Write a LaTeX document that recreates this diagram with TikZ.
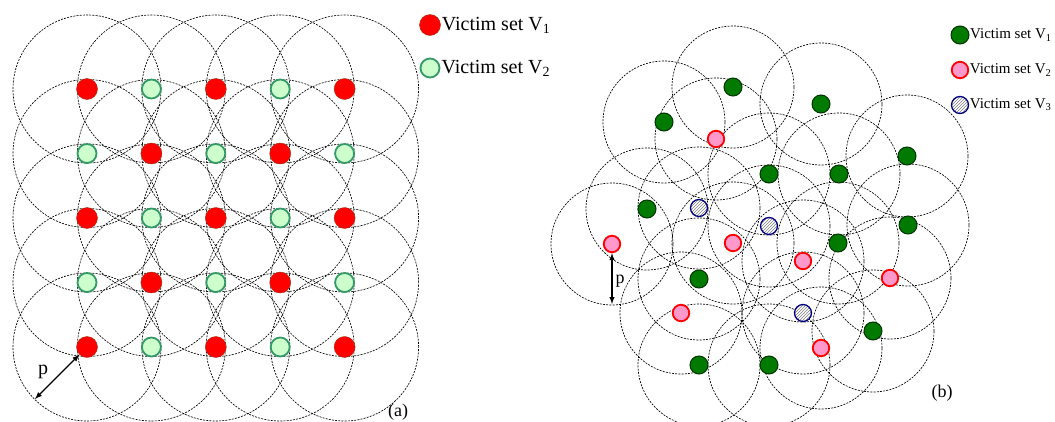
\documentclass[tikz,border=0pt]{standalone}
\usepackage{fontspec}
\setmainfont{Liberation Serif}
\usetikzlibrary{arrows,backgrounds,patterns,positioning,calc}

\definecolor{brickred}{HTML}{A03010}
\definecolor{palegreen}{HTML}{CCFFCC}
\definecolor{seagreen}{HTML}{339966}
\definecolor{leafgreen}{HTML}{007A00}
\definecolor{leafedge}{HTML}{003300}
\definecolor{rosefill}{HTML}{FF99CC}
\definecolor{navyedge}{HTML}{000080}

\begin{document}
\begin{tikzpicture}
[x=1pt,y=-1pt,
vone/.style={circle,inner sep=0pt,fill=red,draw=brickred,line width=0.4pt,minimum size=21pt},
vtwo/.style={circle,inner sep=0pt,fill=palegreen,draw=seagreen,line width=1.8pt,minimum size=19pt},
bone/.style={circle,inner sep=0pt,fill=leafgreen,draw=leafedge,line width=1pt,minimum size=18pt},
btwo/.style={circle,inner sep=0pt,fill=rosefill,draw=red,line width=1.8pt,minimum size=16.5pt},
bthree/.style={circle,inner sep=0pt,preaction={fill=white},pattern=north east lines,pattern color=gray,draw=navyedge,line width=1.3pt,minimum size=17pt},
cover/.style={draw=black,dash pattern=on 2pt off 1.2pt,line width=0.65pt},
pline/.style={<->,>=latex,line width=1.4pt},
legtext/.style={inner sep=0pt,font=\fontsize{20}{24}\selectfont},
legsmall/.style={inner sep=0pt,font=\fontsize{15}{18}\selectfont},
captext/.style={inner sep=0pt,font=\fontsize{18}{21}\selectfont}]
\useasboundingbox (0,0) rectangle (1055,421);

% (a) grid of victims
\foreach \i in {0,...,4}
  \foreach \j in {0,...,4} {
    \pgfmathtruncatemacro\k{mod(\i+\j,2)}
    \ifnum\k=0 \def\kind{vone}\else\def\kind{vtwo}\fi
    \node[\kind] (a\i\j) at (87+64.4*\i,89+64.5*\j) {};
  }
\begin{scope}[on background layer]
\foreach \i in {0,...,4}
  \foreach \j in {0,...,4}
    \draw[cover] (a\i\j) circle[radius=74pt];
\end{scope}

\coordinate (pa) at (35,399);
\draw[pline] (a04.south west) -- (pa);
\node[captext,font=\fontsize{20}{24}\selectfont] (pla) at (43,372) {p};
\node[captext] (capa) at (398,412) {(a)};

\node[vone] (ka1) at (430,25) {};
\node[legtext,right=1pt of ka1] (ta1) {Victim set V\textsubscript{1}};
\node[vtwo] (ka2) at (430,68) {};
\node[legtext,right=1pt of ka2] (ta2) {Victim set V\textsubscript{2}};

% (b) random victims
\node[bone] (g1) at (733,87) {};
\node[bone] (g2) at (664,122) {};
\node[bone] (g3) at (821,104) {};
\node[bone] (g4) at (907,156) {};
\node[bone] (g5) at (769,174) {};
\node[bone] (g6) at (839,174) {};
\node[bone] (g7) at (647,209) {};
\node[bone] (g8) at (838,243) {};
\node[bone] (g9) at (908,225) {};
\node[bone] (g10) at (699,279) {};
\node[bone] (g11) at (873,331) {};
\node[bone] (g12) at (699,365) {};
\node[bone] (g13) at (769,365) {};
\node[btwo] (r1) at (716,139) {};
\node[btwo] (r2) at (612,244) {};
\node[btwo] (r3) at (733,243) {};
\node[btwo] (r4) at (803,261) {};
\node[btwo] (r5) at (890,278) {};
\node[btwo] (r6) at (681,313) {};
\node[btwo] (r7) at (821,348) {};
\node[bthree] (h1) at (699,208) {};
\node[bthree] (h2) at (769,226) {};
\node[bthree] (h3) at (803,313) {};
\begin{scope}[on background layer]
\foreach \n in {g1,g2,g3,g4,g5,g6,g7,g8,g9,g10,g11,g12,g13,r1,r2,r3,r4,r5,r6,r7,h1,h2,h3}
  \draw[cover] (\n) circle[radius=61pt];
\end{scope}

\coordinate (pb) at (612,304);
\draw[pline] (r2.south) -- (pb);
\node[captext] (plb) at (620,281) {p};
\node[captext] (capb) at (942,393) {(b)};

\node[bone] (kb1) at (960,35) {};
\node[legsmall,right=0.5pt of kb1] (tb1) {Victim set V\textsubscript{1}};
\node[btwo] (kb2) at (960,70) {};
\node[legsmall,right=0.5pt of kb2] (tb2) {Victim set V\textsubscript{2}};
\node[bthree] (kb3) at (960,105) {};
\node[legsmall,right=0.5pt of kb3] (tb3) {Victim set V\textsubscript{3}};
\end{tikzpicture}
\end{document}
